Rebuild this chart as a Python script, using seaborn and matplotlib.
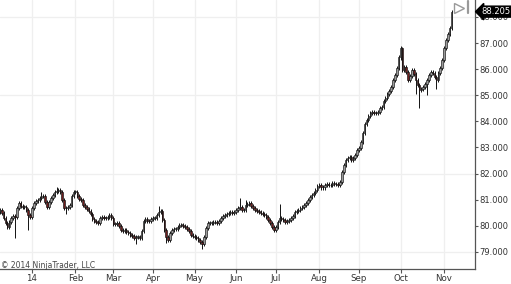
import matplotlib
matplotlib.use("Agg")
import matplotlib.pyplot as plt
import seaborn as sns
import numpy as np

# ---- data ----
closes = [
    80.60, 80.49, 80.30, 80.11, 79.95, 80.14, 80.30, 80.37, 80.34, 80.68,
    80.87, 80.76, 80.72, 80.72, 80.60, 80.41, 80.34, 80.68, 80.87, 80.95,
    80.99, 81.07, 81.14, 81.14, 80.91, 80.72, 80.91, 81.07, 81.18, 81.30,
    81.33, 81.37, 81.30, 80.99, 80.68, 80.68, 80.72, 80.80, 81.14, 81.30,
    81.30, 81.14, 81.03, 80.99, 80.80, 80.72, 80.64, 80.57, 80.45, 80.26,
    80.18, 80.14, 80.11, 80.30, 80.34, 80.30, 80.30, 80.34, 80.41, 80.30,
    80.07, 80.07, 80.11, 79.99, 79.84, 79.80, 79.84, 79.76, 79.72, 79.65,
    79.61, 79.53, 79.57, 79.57, 79.53, 79.80, 80.18, 80.26, 80.18, 80.18,
    80.26, 80.30, 80.30, 80.41, 80.53, 80.57, 80.22, 79.84, 79.57, 79.46,
    79.72, 79.84, 79.88, 79.88, 79.95, 80.03, 80.03, 79.99, 79.95, 79.88,
    79.80, 79.65, 79.61, 79.57, 79.53, 79.46, 79.38, 79.30, 79.57, 79.92,
    80.11, 80.11, 80.11, 80.14, 80.14, 80.11, 80.18, 80.30, 80.37, 80.41,
    80.45, 80.49, 80.53, 80.49, 80.53, 80.60, 80.68, 80.72, 80.60, 80.60,
    80.80, 80.83, 80.87, 80.76, 80.68, 80.60, 80.57, 80.53, 80.49, 80.45,
    80.41, 80.34, 80.22, 80.11, 79.95, 79.84, 79.95, 80.14, 80.30, 80.26,
    80.22, 80.14, 80.18, 80.22, 80.30, 80.37, 80.53, 80.57, 80.60, 80.68,
    80.72, 80.80, 80.87, 80.99, 81.10, 81.18, 81.26, 81.37, 81.53, 81.56,
    81.48, 81.48, 81.56, 81.60, 81.56, 81.56, 81.64, 81.60, 81.60, 81.56,
    81.68, 82.06, 82.33, 82.52, 82.60, 82.64, 82.52, 82.60, 82.71, 82.90,
    82.98, 83.21, 83.56, 83.90, 84.05, 84.21, 84.32, 84.36, 84.32, 84.32,
    84.36, 84.51, 84.55, 84.78, 84.90, 85.05, 85.17, 85.32, 85.59, 85.78,
    86.05, 86.45, 86.81, 85.97, 86.08, 85.89, 85.59, 85.74, 85.97, 85.82,
    85.59, 85.39, 85.20, 85.24, 85.32, 85.43, 85.59, 85.78, 85.89, 85.85,
    85.70, 85.59, 85.85, 86.05, 86.35, 86.81, 87.12, 87.35, 87.58, 88.205,
]
first_open = 80.55
# notable wicks (bar index -> price)
long_highs = {22: 81.30, 30: 81.50, 84: 80.75, 127: 81.06, 130: 80.98,
              148: 80.85, 213: 86.85, 239: 88.25}
long_lows = {8: 79.53, 15: 79.84, 35: 80.45, 72: 79.30, 88: 79.35,
             107: 79.12, 220: 85.05, 222: 84.51, 226: 85.00, 231: 85.25}

month_bars = [17, 40, 60, 81, 103, 125, 146, 169, 190, 212, 235]
month_labels = ["14", "Feb", "Mar", "Apr", "May", "Jun", "Jul", "Aug", "Sep", "Oct", "Nov"]
yticks = [79, 80, 81, 82, 83, 84, 85, 86, 87, 88]
grid_levels = [79, 82, 85, 88]
last_price_text = "88.205"
copyright_text = "\u00a9 2014 NinjaTrader, LLC"

# ---- figure ----
sns.set_theme(style="white")
plt.rcParams["font.family"] = ["DejaVu Sans"]

W, H = 511, 284
fig = plt.figure(figsize=(W / 100, H / 100), dpi=100)
ax = fig.add_axes([0, 15 / H, 475 / W, 269 / H])

n = len(closes)
idx = np.arange(n)
opens = [first_open] + closes[:-1]
wick_ext = 0.09
highs = [long_highs.get(i, max(opens[i], closes[i]) + wick_ext) for i in range(n)]
lows = [long_lows.get(i, min(opens[i], closes[i]) - wick_ext) for i in range(n)]

# grid
for b in month_bars:
    ax.axvline(b, color="#efefef", lw=0.9, zorder=0)
for g in grid_levels:
    ax.axhline(g, color="#efefef", lw=0.9, zorder=0)

ax.vlines(idx, lows, highs, color="#111111", lw=0.7, zorder=2)
up = np.array(closes) >= np.array(opens)
body_bottom = np.minimum(opens, closes)
body_h = np.maximum(np.abs(np.array(closes) - np.array(opens)), 0.02)
ax.bar(idx[up], body_h[up], bottom=body_bottom[up], width=0.8,
       color="#9a9a9a", edgecolor="#111111", linewidth=0.45, zorder=3)
ax.bar(idx[~up], body_h[~up], bottom=body_bottom[~up], width=0.8,
       color="#6e1f1f", edgecolor="#111111", linewidth=0.45, zorder=3)

ax.set_xlim(0.07, 251.4)
ax.set_ylim(78.344, 88.651)

ax.yaxis.tick_right()
ax.set_yticks(yticks)
ax.set_yticklabels([f"{v:.3f}" for v in yticks])
ax.set_xticks(month_bars)
ax.set_xticklabels(month_labels)
ax.tick_params(axis="y", which="both", right=True, left=False, length=2.5, width=0.8,
               color="#555555", labelsize=6.0, labelcolor="#333333", pad=0.8)
ax.tick_params(axis="x", which="both", bottom=True, length=3, width=0.8,
               color="#555555", labelsize=6.2, labelcolor="#333333", pad=0.8)
for s in ["left", "top"]:
    ax.spines[s].set_visible(False)
for s in ["right", "bottom"]:
    ax.spines[s].set_visible(True)
    ax.spines[s].set_color("#555555")
    ax.spines[s].set_linewidth(0.9)

# last price tag
ax.annotate(last_price_text, xy=(1.0, closes[-1]), xycoords=("axes fraction", "data"),
            xytext=(4.5, 0), textcoords="offset points", va="center", ha="left",
            fontsize=6.0, color="white",
            bbox=dict(boxstyle="larrow,pad=0.12", fc="black", ec="black"), zorder=10,
            annotation_clip=False)

# end-of-data marker (triangle + bar)
ax.plot([0.967], [0.972], transform=ax.transAxes, marker=">", ms=7.5, mfc="none",
        mec="#999999", mew=1.0, clip_on=False)
ax.plot([0.985, 0.985], [0.95, 0.995], transform=ax.transAxes, color="#999999",
        lw=1.6, clip_on=False)

fig.text(1 / W, (284 - 266) / H, copyright_text, fontsize=5.5, color="#444444",
         ha="left", va="center")

fig.savefig("out.png", dpi=100)
